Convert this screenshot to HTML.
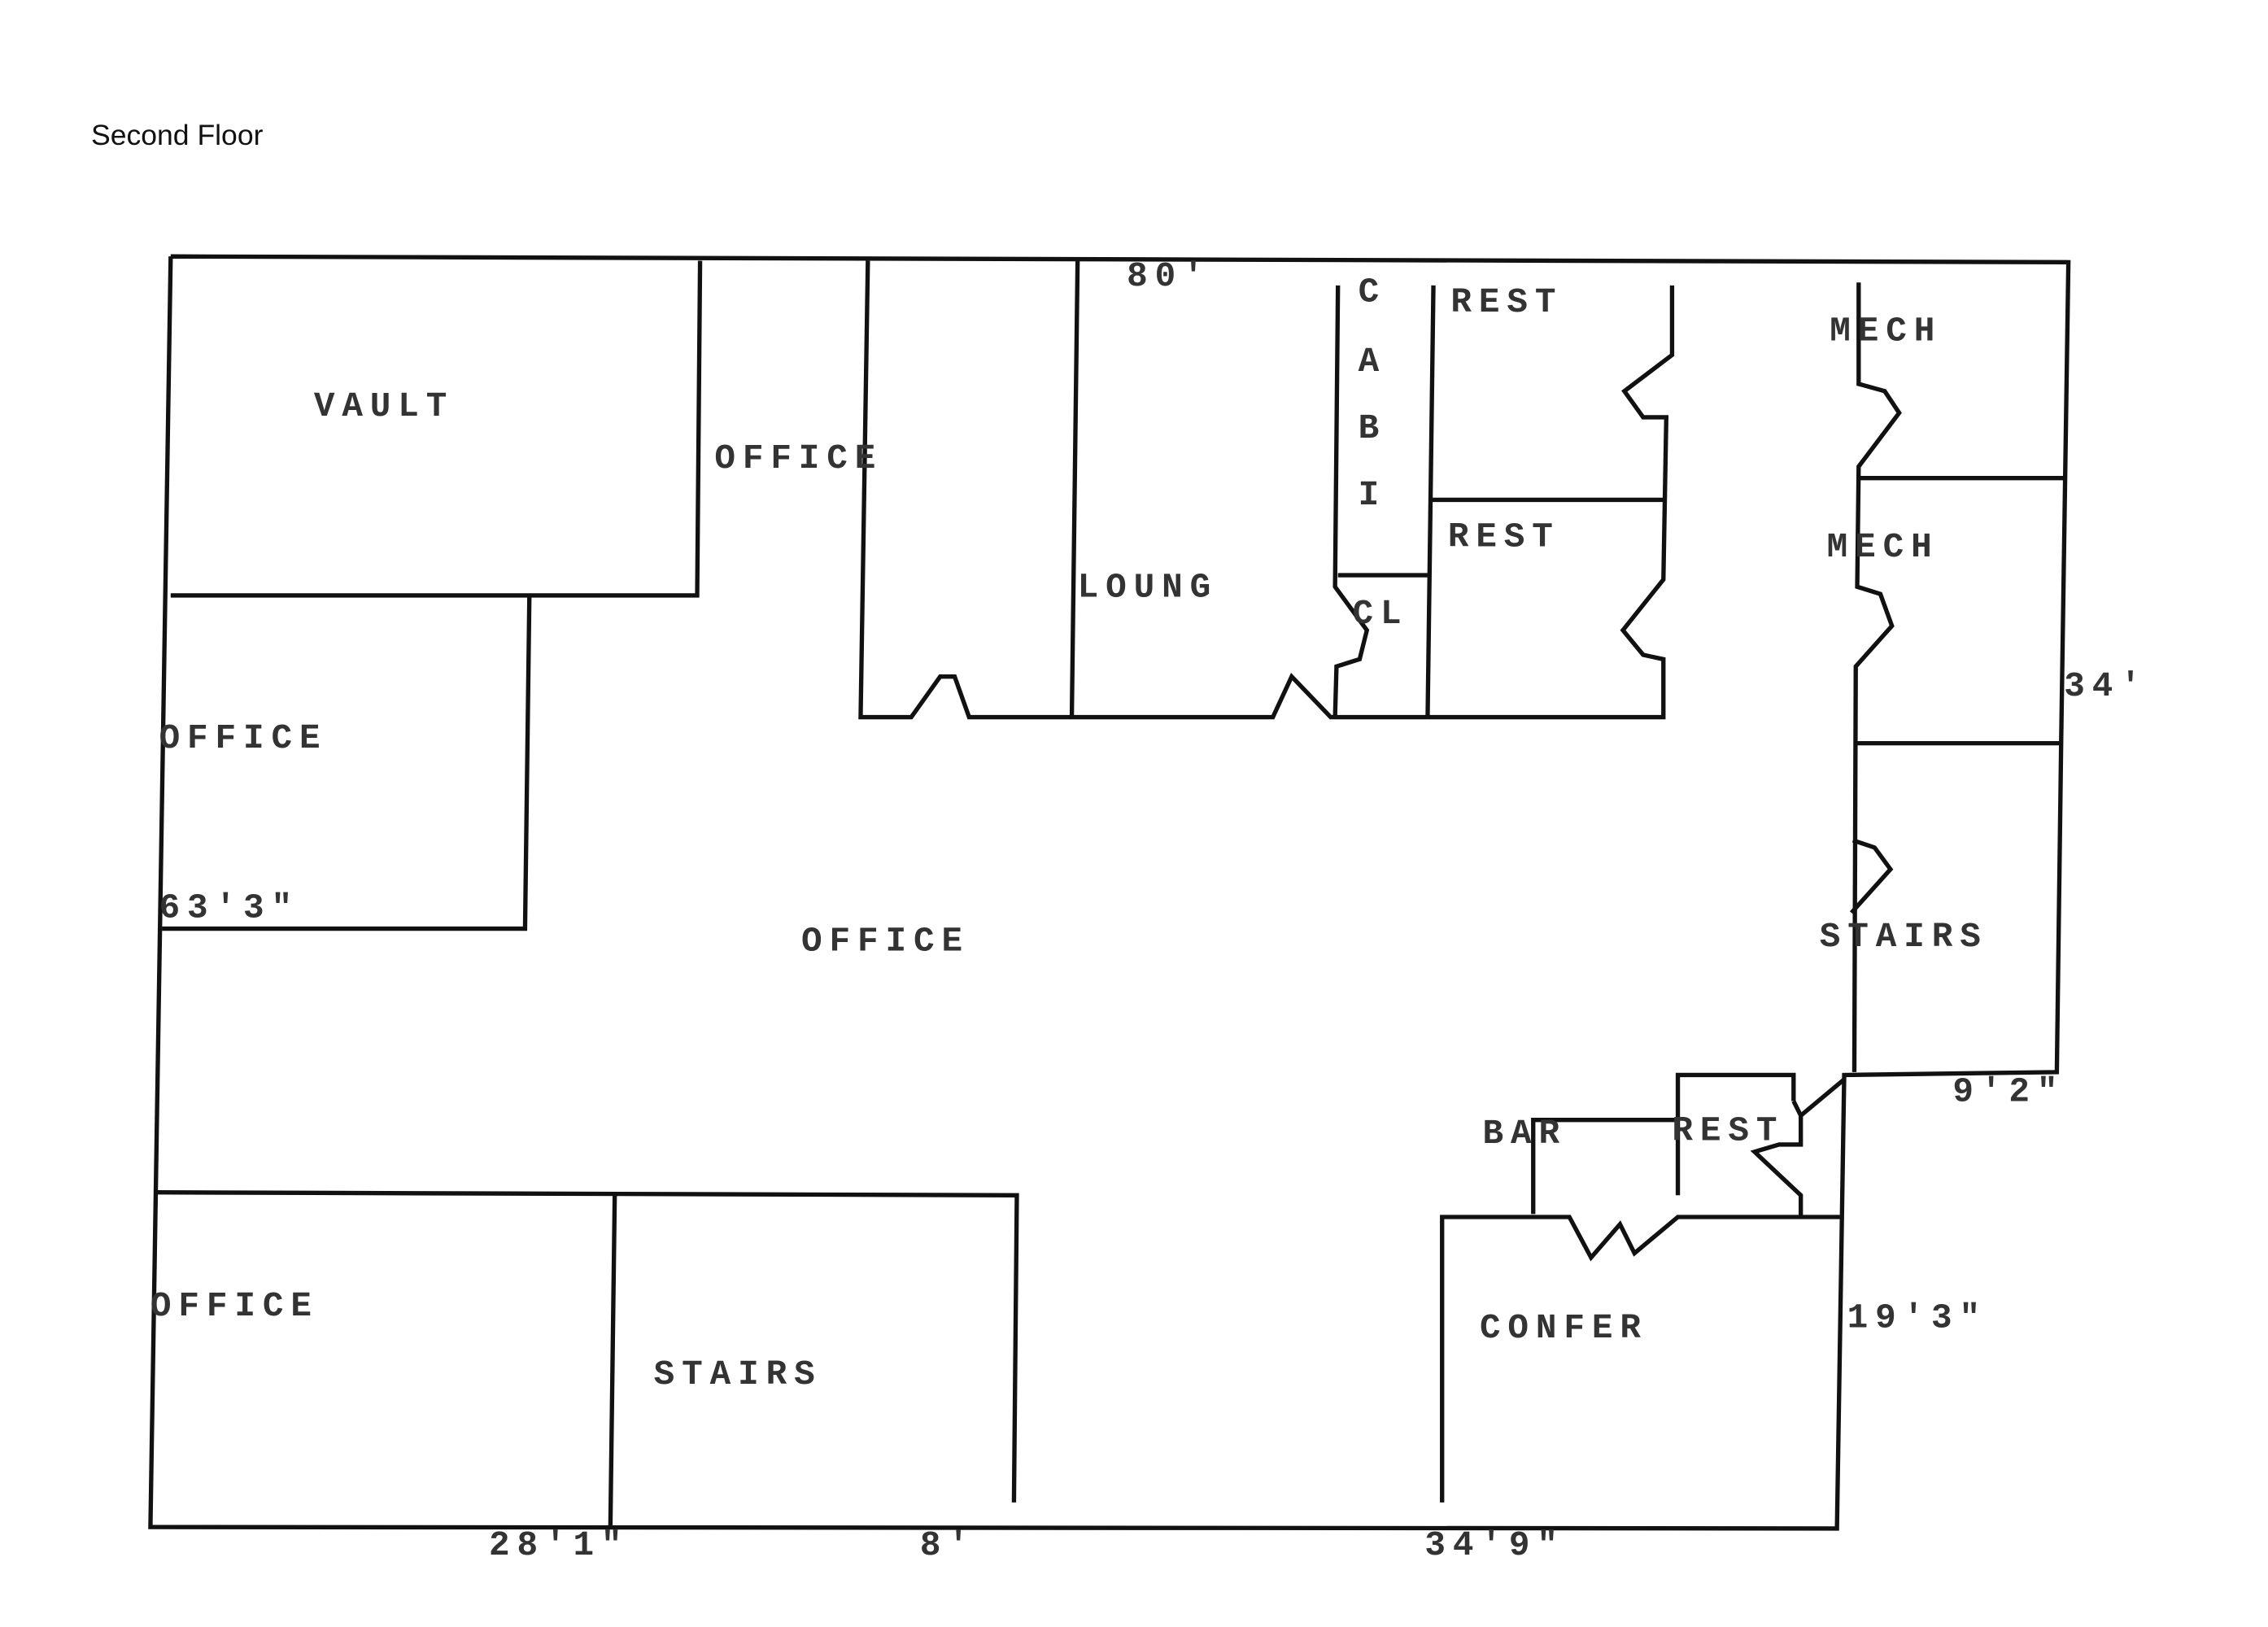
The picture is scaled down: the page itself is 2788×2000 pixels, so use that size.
<!DOCTYPE html>
<html><head><style>
html,body{margin:0;padding:0;background:#fff;}
svg{display:block;}
.t{font-family:"Liberation Mono",monospace;font-size:24px;fill:#333;font-weight:bold;letter-spacing:5px;}
</style></head><body>
<svg width="2788" height="2000" viewBox="0 0 1568 1123" preserveAspectRatio="none" xmlns="http://www.w3.org/2000/svg">
<rect width="1568" height="1123" fill="#fff"/>
<text x="63" y="100" font-family="Liberation Sans, sans-serif" font-size="20" fill="#111">Second Floor</text>
<g fill="none" stroke="#111" stroke-width="3" stroke-linejoin="miter">
<path d="M118,177 L1430,181 L1425,512 L1422,740 L1275,742 L1270,1055 L104,1054 L118,177"/>
<path d="M484,180 L482,411 L118,411"/>
<path d="M366,411 L363,641 L112,641"/>
<path d="M600,180 L595,495 L630,495 L650,467 L660,467 L670,495 L740,495"/>
<path d="M745,180 L741,495 L880,495 L893,467 L920,495 L987,495"/>
<path d="M925,197 L923,405 L945,435 L940,455 L924,460 L923,495"/>
<path d="M925,397 L987,397"/>
<path d="M991,197 L987,495"/>
<path d="M990,345 L1152,345"/>
<path d="M1156,197 L1156,245 L1123,270 L1136,288 L1152,288 L1150,400 L1122,435 L1136,452 L1150,455 L1150,495 L987,495"/>
<path d="M1285,195 L1285,265 L1303,270 L1313,285 L1285,322 L1284,405 L1300,410 L1308,432 L1283,460 L1282,740"/>
<path d="M1285,330 L1427,330"/>
<path d="M1283,513 L1425,513"/>
<path d="M1281,580 L1296,585 L1307,600 L1280,630"/>
<path d="M1160,825 L1160,742 L1240,742 L1240,760"/>
<path d="M1060,838 L1060,773 L1160,773"/>
<path d="M1275,745 L1245,770 L1240,760"/>
<path d="M1245,770 L1245,790 L1230,790 L1213,795 L1245,825 L1245,840"/>
<path d="M997,1037 L997,840 L1085,840 L1100,868 L1120,845 L1130,865 L1160,840 L1272,840"/>
<path d="M108,823 L703,825 L701,1037"/>
<path d="M425,825 L422,1054"/>
</g>
<g class="t">
<text x="217" y="287">VAULT</text>
<text x="494" y="323">OFFICE</text>
<text x="110" y="516">OFFICE</text>
<text x="110" y="633">63'3"</text>
<text x="554" y="656">OFFICE</text>
<text x="745" y="412">LOUNG</text>
<text x="779" y="197">80'</text>
<text x="939" y="208">C</text>
<text x="939" y="256">A</text>
<text x="939" y="302">B</text>
<text x="939" y="348">I</text>
<text x="935" y="430">CL</text>
<text x="1003" y="215">REST</text>
<text x="1001" y="377">REST</text>
<text x="1265" y="235">MECH</text>
<text x="1263" y="384">MECH</text>
<text x="1427" y="480">34'</text>
<text x="1258" y="653">STAIRS</text>
<text x="1350" y="760">9'2"</text>
<text x="1025" y="789">BAR</text>
<text x="1156" y="787">REST</text>
<text x="1023" y="923">CONFER</text>
<text x="1277" y="916">19'3"</text>
<text x="104" y="908">OFFICE</text>
<text x="452" y="955">STAIRS</text>
<text x="338" y="1073">28'1"</text>
<text x="636" y="1073">8'</text>
<text x="985" y="1073">34'9"</text>
</g>
</svg>
</body></html>
